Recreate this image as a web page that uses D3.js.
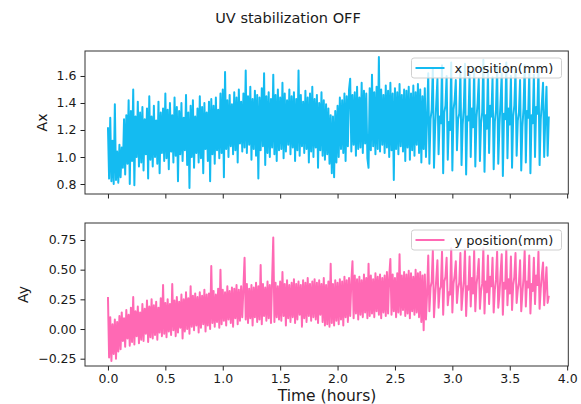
<!DOCTYPE html>
<html>
<head>
<meta charset="utf-8">
<script src="https://cdn.jsdelivr.net/npm/d3@7"></script>
<style>
  body { margin: 0; background: #fff; }
  svg { display: block; }
  text { font-family: "DejaVu Sans", sans-serif; fill: #1a1a1a; }
</style>
</head>
<body>
<svg id="chart" width="581" height="404"></svg>
<script>
// One reading every 0.01 h, starting at t = 0.
const sampleStep = 0.01;

// x position (mm)
const axValues = [
  1.22, 0.84, 1.29, 0.82, 1.12, 0.80, 1.39, 0.83, 1.04, 0.81,
  1.09, 0.85, 1.07, 0.92, 1.28, 0.87, 1.31, 0.95, 1.42, 0.80,
  1.34, 0.97, 1.50, 0.79, 1.30, 1.00, 1.41, 0.93, 1.33, 0.96,
  1.37, 0.90, 1.28, 1.02, 1.36, 0.84, 1.45, 0.98, 1.30, 0.93,
  1.38, 1.00, 1.27, 0.95, 1.41, 0.88, 1.33, 1.03, 1.36, 0.97,
  1.47, 0.99, 1.35, 0.91, 1.40, 1.04, 1.31, 0.96, 1.44, 1.01,
  1.37, 0.82, 1.34, 1.02, 1.40, 0.97, 1.29, 1.05, 1.46, 0.94,
  1.33, 0.77, 1.38, 1.00, 1.42, 0.92, 1.30, 1.03, 1.36, 0.96,
  1.45, 0.99, 1.37, 0.88, 1.40, 1.06, 1.33, 0.97, 1.41, 0.82,
  1.43, 1.02, 1.38, 0.95, 1.44, 1.05, 1.35, 0.99, 1.47, 1.03,
  1.50, 0.85, 1.63, 1.06, 1.42, 1.00, 1.46, 1.08, 1.39, 1.02,
  1.48, 1.05, 1.44, 0.96, 1.50, 1.10, 1.41, 1.04, 1.47, 1.07,
  1.64, 1.03, 1.45, 1.09, 1.52, 0.98, 1.43, 1.06, 1.49, 1.01,
  1.46, 0.84, 1.44, 1.05, 1.51, 1.08, 1.62, 0.94, 1.45, 1.03,
  1.48, 1.00, 1.43, 1.07, 1.61, 1.02, 1.46, 0.97, 1.50, 1.05,
  1.44, 1.06, 1.55, 0.99, 1.47, 1.04, 1.42, 1.09, 1.50, 1.02,
  1.45, 1.07, 1.48, 0.97, 1.43, 1.05, 1.64, 1.01, 1.46, 1.08,
  1.41, 1.03, 1.49, 1.06, 1.44, 0.96, 1.47, 1.04, 1.52, 1.00,
  1.43, 1.07, 1.46, 0.92, 1.40, 1.05, 1.48, 1.01, 1.42, 0.98,
  1.39, 1.02, 1.36, 0.95, 1.31, 0.88, 1.30, 0.85, 1.34, 0.96,
  1.38, 1.00, 1.44, 1.06, 1.42, 1.03, 1.47, 0.97, 1.45, 1.08,
  1.50, 1.58, 1.04, 1.46, 1.09, 1.48, 1.01, 1.52, 1.06, 1.44,
  1.07, 1.55, 1.03, 1.49, 1.10, 1.47, 0.99, 0.92, 1.51, 1.05,
  1.61, 1.08, 1.48, 1.02, 1.52, 1.06, 1.74, 1.04, 1.50, 1.09,
  1.46, 1.03, 1.53, 1.07, 1.49, 1.00, 1.55, 1.05, 1.47, 0.83,
  1.51, 1.06, 1.48, 1.02, 1.54, 1.08, 1.46, 1.04, 1.50, 0.97,
  1.49, 1.07, 1.52, 0.98, 1.47, 1.05, 1.53, 1.01, 1.48, 1.09,
  1.54, 1.03, 1.50, 0.96, 1.45, 1.06, 1.51, 1.00,
  1.30, 1.62, 0.95, 1.28, 1.35, 1.66, 0.92, 1.22, 1.40, 1.58,
  1.02, 1.30, 1.25, 1.68, 0.88, 1.33, 1.38, 1.60, 0.98, 1.26,
  1.20, 1.70, 0.90, 1.35, 1.42, 1.57, 1.05, 1.28, 1.32, 1.64,
  0.94, 1.24, 1.37, 1.69, 0.87, 1.30, 1.27, 1.61, 1.00, 1.36,
  1.22, 1.66, 0.93, 1.29, 1.40, 1.58, 0.97, 1.25, 1.33, 1.72,
  0.89, 1.31, 1.21, 1.63, 1.03, 1.38, 1.30, 1.59, 0.91, 1.26,
  1.35, 1.67, 0.95, 1.23, 1.41, 1.62, 0.86, 1.32, 1.28, 1.70,
  0.99, 1.36, 1.24, 1.60, 0.92, 1.30, 1.38, 1.65, 1.01, 1.27,
  1.33, 1.57, 0.90, 1.22, 1.36, 1.68, 0.96, 1.34, 1.29, 1.63,
  0.88, 1.31, 1.25, 1.61, 1.00, 1.37, 1.32, 1.66, 0.94, 1.28,
  1.40, 1.55, 1.00, 1.30, 1.52, 1.01, 1.30
];

// y position (mm)
const ayValues = [
  0.27, -0.24, 0.10, -0.27, 0.04, -0.21, 0.08, -0.25, 0.06, -0.19,
  0.11, -0.17, 0.14, -0.10, 0.09, -0.15, 0.16, -0.08, 0.12, -0.14,
  0.18, -0.11, 0.27, -0.13, 0.15, -0.06, 0.19, -0.12, 0.14, -0.09,
  0.21, -0.10, 0.17, -0.04, 0.24, -0.11, 0.19, -0.07, 0.25, -0.08,
  0.20, -0.05, 0.23, -0.09, 0.18, -0.03, 0.26, -0.06, 0.37, -0.04,
  0.22, -0.07, 0.25, -0.02, 0.21, -0.05, 0.38, -0.01, 0.24, -0.06,
  0.27, -0.03, 0.23, 0.01, 0.29, -0.08, 0.25, -0.02, 0.31, 0.00,
  0.26, -0.04, 0.36, 0.02, 0.28, -0.01, 0.30, 0.03, 0.27, -0.03,
  0.31, 0.01, 0.28, 0.04, 0.33, -0.02, 0.29, 0.03, 0.30, 0.00,
  0.53, 0.05, 0.32, 0.02, 0.29, 0.06, 0.34, 0.01, 0.50, 0.04,
  0.33, 0.07, 0.31, 0.03, 0.36, 0.08, 0.32, 0.05, 0.35, 0.02,
  0.34, 0.09, 0.37, 0.04, 0.33, 0.07, 0.36, 0.10, 0.35, 0.60,
  0.08, 0.38, 0.05, 0.34, 0.09, 0.37, 0.03, 0.35, 0.10, 0.39,
  0.06, 0.36, 0.08, 0.54, 0.04, 0.38, 0.11, 0.35, 0.07, 0.40,
  0.09, 0.37, 0.05, 0.41, 0.77, 0.06, 0.39, 0.10, 0.36, 0.08,
  0.40, 0.07, 0.48, 0.11, 0.38, 0.03, 0.41, 0.09, 0.37, 0.06,
  0.39, 0.10, 0.42, 0.05, 0.38, 0.08, 0.40, 0.12, 0.37, 0.02,
  0.41, 0.09, 0.39, 0.06, 0.43, 0.11, 0.38, 0.07, 0.40, 0.10,
  0.42, 0.08, 0.39, 0.05, 0.41, 0.12, 0.38, 0.06, 0.43, 0.03,
  0.37, 0.04, 0.40, 0.02, 0.55, 0.05, 0.38, 0.03, 0.41, 0.07,
  0.39, 0.04, 0.42, 0.08, 0.40, 0.03, 0.44, 0.10, 0.41, 0.06,
  0.43, 0.11, 0.40, 0.57, 0.09, 0.45, 0.13, 0.42, 0.08, 0.44,
  0.12, 0.41, 0.10, 0.46, 0.14, 0.43, 0.09, 0.55, 0.11, 0.45,
  0.13, 0.42, 0.10, 0.47, 0.15, 0.44, 0.12, 0.46, 0.09, 0.43,
  0.14, 0.45, 0.11, 0.48, 0.13, 0.44, 0.59, 0.12, 0.46, 0.15,
  0.43, 0.10, 0.47, 0.14, 0.63, 0.12, 0.45, 0.16, 0.48, 0.11,
  0.46, 0.13, 0.49, 0.09, 0.47, 0.15, 0.44, 0.12, 0.50, 0.14,
  0.47, 0.10, 0.48, 0.06, 0.45, -0.01, 0.46, 0.08,
  0.30, 0.62, 0.15, 0.35, 0.40, 0.66, 0.10, 0.28, 0.42, 0.58,
  0.18, 0.33, 0.36, 0.65, 0.12, 0.40, 0.44, 0.60, 0.20, 0.31,
  0.29, 0.68, 0.14, 0.38, 0.45, 0.57, 0.22, 0.34, 0.39, 0.64,
  0.16, 0.30, 0.41, 0.67, 0.11, 0.36, 0.33, 0.61, 0.19, 0.43,
  0.30, 0.66, 0.15, 0.37, 0.46, 0.59, 0.17, 0.32, 0.38, 0.68,
  0.13, 0.40, 0.31, 0.62, 0.21, 0.44, 0.36, 0.60, 0.14, 0.33,
  0.42, 0.65, 0.18, 0.29, 0.47, 0.63, 0.12, 0.39, 0.34, 0.67,
  0.20, 0.42, 0.30, 0.61, 0.16, 0.37, 0.44, 0.64, 0.22, 0.33,
  0.39, 0.58, 0.15, 0.30, 0.43, 0.66, 0.19, 0.40, 0.35, 0.62,
  0.13, 0.38, 0.32, 0.60, 0.21, 0.45, 0.37, 0.65, 0.17, 0.34,
  0.46, 0.56, 0.20, 0.36, 0.52, 0.22, 0.28
];

const xTicks = [0.0, 0.5, 1.0, 1.5, 2.0, 2.5, 3.0, 3.5, 4.0];
const axTicks = [0.8, 1.0, 1.2, 1.4, 1.6];
const ayTicks = [-0.25, 0.0, 0.25, 0.5, 0.75];

// Pair each reading with its time stamp in hours.
const withTime = vals => vals.map((v, i) => [+(i * sampleStep).toFixed(4), v]);

const svg = d3.select("#chart");
const left = 85, right = 568.3;
const x = d3.scaleLinear().domain([-0.2, 4.01]).range([left, right]);

const panels = [
  { top: 51, bottom: 194, domain: [0.726, 1.785], ticks: axTicks, fmt: d3.format(".1f"),
    data: withTime(axValues), color: "#14bbf1", label: "Ax", labelX: 42.5,
    legend: "x position(mm)", xLabels: false },
  { top: 223, bottom: 366, domain: [-0.3115, 0.893], ticks: ayTicks, fmt: d3.format(".2f"),
    data: withTime(ayValues), color: "#ff69b4", label: "Ay", labelX: 23,
    legend: "y position(mm)", xLabels: true }
];

panels.forEach((p, k) => {
  const y = d3.scaleLinear().domain(p.domain).range([p.bottom, p.top]);
  const g = svg.append("g");

  g.append("clipPath").attr("id", "clip" + k)
    .append("rect").attr("x", left).attr("y", p.top)
    .attr("width", right - left).attr("height", p.bottom - p.top);

  const line = d3.line().x(d => x(d[0])).y(d => y(d[1]));
  g.append("path").datum(p.data)
    .attr("clip-path", `url(#clip${k})`)
    .attr("d", line)
    .attr("fill", "none")
    .attr("stroke", p.color)
    .attr("stroke-width", 2)
    .attr("stroke-linejoin", "round");

  // y axis
  const ya = g.append("g").attr("transform", `translate(${left},0)`)
    .call(d3.axisLeft(y).tickValues(p.ticks).tickFormat(p.fmt).tickSize(4.5).tickPadding(4));
  ya.select(".domain").remove();
  ya.selectAll("line").attr("stroke", "#222");
  ya.selectAll("text").style("font-size", "12.5px").attr("fill", "#1a1a1a");

  // x axis
  const xa = g.append("g").attr("transform", `translate(0,${p.bottom})`)
    .call(d3.axisBottom(x).tickValues(xTicks).tickFormat(p.xLabels ? d3.format(".1f") : "")
      .tickSize(4.5).tickPadding(4));
  xa.select(".domain").remove();
  xa.selectAll("line").attr("stroke", "#222");
  xa.selectAll("text").style("font-size", "12.5px").attr("fill", "#1a1a1a");

  // frame
  g.append("rect").attr("x", left).attr("y", p.top)
    .attr("width", right - left).attr("height", p.bottom - p.top)
    .attr("fill", "none").attr("stroke", "#333").attr("stroke-width", 1);

  // y label
  g.append("text")
    .attr("transform", `translate(${p.labelX},${(p.top + p.bottom) / 2}) rotate(-90)`)
    .attr("text-anchor", "middle").attr("dy", "0.35em")
    .style("font-size", "14px").text(p.label);

  // legend
  const lg = g.append("g").attr("transform", `translate(411.5,${p.top + 7})`);
  lg.append("rect").attr("width", 150).attr("height", 20).attr("rx", 2.5)
    .attr("fill", "#fff").attr("fill-opacity", 0.8)
    .attr("stroke", "#d0d0d0").attr("stroke-width", 1);
  lg.append("line").attr("x1", 4).attr("x2", 33).attr("y1", 10).attr("y2", 10)
    .attr("stroke", p.color).attr("stroke-width", 2);
  lg.append("text").attr("x", 43).attr("y", 10).attr("dy", "0.35em")
    .style("font-size", "13px").text(p.legend);
});

svg.append("text").attr("x", 288).attr("y", 22.5).attr("text-anchor", "middle")
  .style("font-size", "14.5px").text("UV stabilization OFF");

svg.append("text").attr("x", 327).attr("y", 401).attr("text-anchor", "middle")
  .style("font-size", "15.5px").text("Time (hours)");
</script>
</body>
</html>
